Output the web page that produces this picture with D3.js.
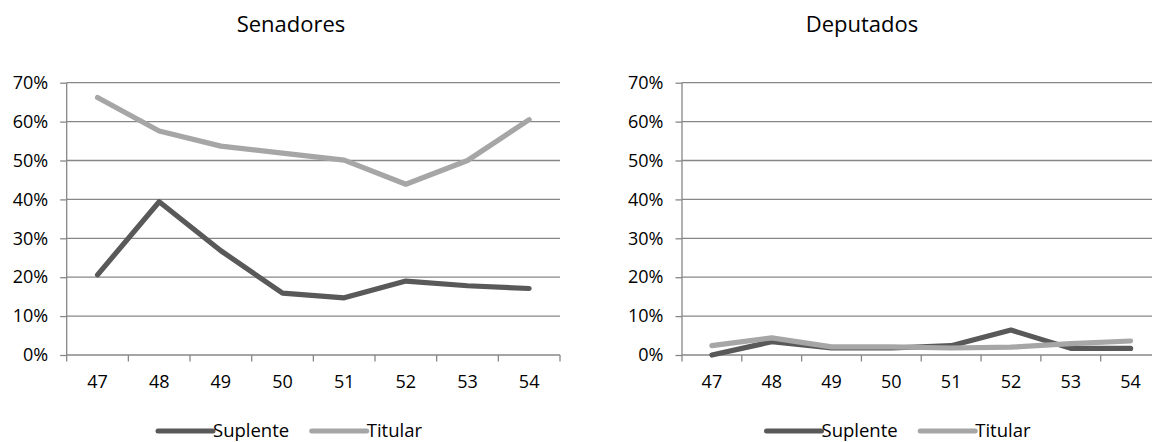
<!DOCTYPE html>
<html>
<head>
<meta charset="utf-8">
<script src="https://cdn.jsdelivr.net/npm/d3@7"></script>
<style>
  html, body { margin: 0; padding: 0; background: #fff; }
  svg { display: block; font-family: "Open Sans", "Noto Sans", sans-serif; }
</style>
</head>
<body>
<svg id="chart" width="1152" height="442"></svg>
<script>
// Legislatures on the x axis
const legislaturas = ["47", "48", "49", "50", "51", "52", "53", "54"];
const yTicks = [0, 0.1, 0.2, 0.3, 0.4, 0.5, 0.6, 0.7];

// Senadores
const senSuplente = [0.206, 0.394, 0.268, 0.159, 0.147, 0.190, 0.178, 0.171];
const senTitular  = [0.662, 0.576, 0.537, 0.519, 0.501, 0.439, 0.500, 0.605];

// Deputados
const depSuplente = [0.000, 0.034, 0.018, 0.018, 0.024, 0.064, 0.017, 0.017];
const depTitular  = [0.024, 0.044, 0.021, 0.021, 0.018, 0.020, 0.029, 0.036];

const seriesNames = ["Suplente", "Titular"];
const colors = { Suplente: "#595959", Titular: "#a6a6a6" };
const gridColor = "#878787";

const svg = d3.select("#chart");

const panels = [
  { title: "Senadores", cx: 291, x0: 66.7, x1: 560,
    series: [{ name: "Suplente", values: senSuplente }, { name: "Titular", values: senTitular }],
    legendX: 158 },
  { title: "Deputados", cx: 862, x0: 682, x1: 1160.5,
    series: [{ name: "Suplente", values: depSuplente }, { name: "Titular", values: depTitular }],
    legendX: 766.5 }
];

const yTop = 82.7, yBottom = 355;

panels.forEach(p => {
  const g = svg.append("g");

  const x = d3.scaleBand().domain(legislaturas).range([p.x0, p.x1]);
  const y = d3.scaleLinear().domain([0, 0.7]).range([yBottom, yTop]);

  // title
  g.append("text")
    .attr("x", p.cx).attr("y", 32)
    .attr("text-anchor", "middle")
    .attr("font-size", 22).attr("fill", "#000")
    .text(p.title);

  // horizontal gridlines
  g.append("g").selectAll("line").data(yTicks.filter(t => t > 0)).join("line")
    .attr("x1", p.x0).attr("x2", p.x1)
    .attr("y1", d => y(d)).attr("y2", d => y(d))
    .attr("stroke", gridColor).attr("stroke-width", 1.3);

  // y axis
  const yAxis = d3.axisLeft(y).tickValues(yTicks).tickFormat(d3.format(".0%"))
    .tickSize(6.5).tickPadding(12);
  const ya = g.append("g").attr("transform", `translate(${p.x0},0)`).call(yAxis);
  ya.select(".domain").remove();
  ya.selectAll(".tick line").attr("stroke", gridColor).attr("stroke-width", 1.3);
  ya.selectAll(".tick text").attr("font-size", 18).attr("fill", "#000")
    .attr("font-family", "'Open Sans', sans-serif");
  g.append("line")
    .attr("x1", p.x0).attr("x2", p.x0).attr("y1", yTop).attr("y2", yBottom)
    .attr("stroke", gridColor).attr("stroke-width", 1.3);

  // x axis: category labels centred in bands, tick marks on band edges
  const xAxis = d3.axisBottom(x).tickSize(0).tickPadding(20);
  const xa = g.append("g").attr("transform", `translate(0,${yBottom})`).call(xAxis);
  xa.select(".domain").remove();
  xa.selectAll(".tick text").attr("font-size", 18).attr("fill", "#000")
    .attr("font-family", "'Open Sans', sans-serif");
  g.append("line")
    .attr("x1", p.x0).attr("x2", p.x1).attr("y1", yBottom).attr("y2", yBottom)
    .attr("stroke", gridColor).attr("stroke-width", 1.3);
  const edges = legislaturas.map(c => x(c)).concat([x.range()[1]]);
  g.append("g").selectAll("line").data(edges).join("line")
    .attr("x1", d => d).attr("x2", d => d)
    .attr("y1", yBottom).attr("y2", yBottom + 6.5)
    .attr("stroke", gridColor).attr("stroke-width", 1.3);

  // series lines
  const line = d3.line()
    .x((d, i) => x(legislaturas[i]) + x.bandwidth() / 2)
    .y(d => y(d));
  p.series.forEach(s => {
    g.append("path")
      .datum(s.values)
      .attr("d", line)
      .attr("fill", "none")
      .attr("stroke", colors[s.name])
      .attr("stroke-width", 5.2)
      .attr("stroke-linejoin", "round")
      .attr("stroke-linecap", "round");
  });

  // legend
  const lg = g.append("g").attr("transform", `translate(${p.legendX},431)`);
  let lx = 0;
  seriesNames.forEach(name => {
    lg.append("line")
      .attr("x1", lx).attr("x2", lx + 55).attr("y1", 0).attr("y2", 0)
      .attr("stroke", colors[name]).attr("stroke-width", 5)
      .attr("stroke-linecap", "round");
    const t = lg.append("text")
      .attr("x", lx + 55).attr("y", 6)
      .attr("font-size", 18.5).attr("fill", "#000")
      .text(name);
    lx += 55 + t.node().getComputedTextLength() + 22.5;
  });
});

// clip the right panel at the page edge
svg.attr("overflow", "hidden");
</script>
</body>
</html>
